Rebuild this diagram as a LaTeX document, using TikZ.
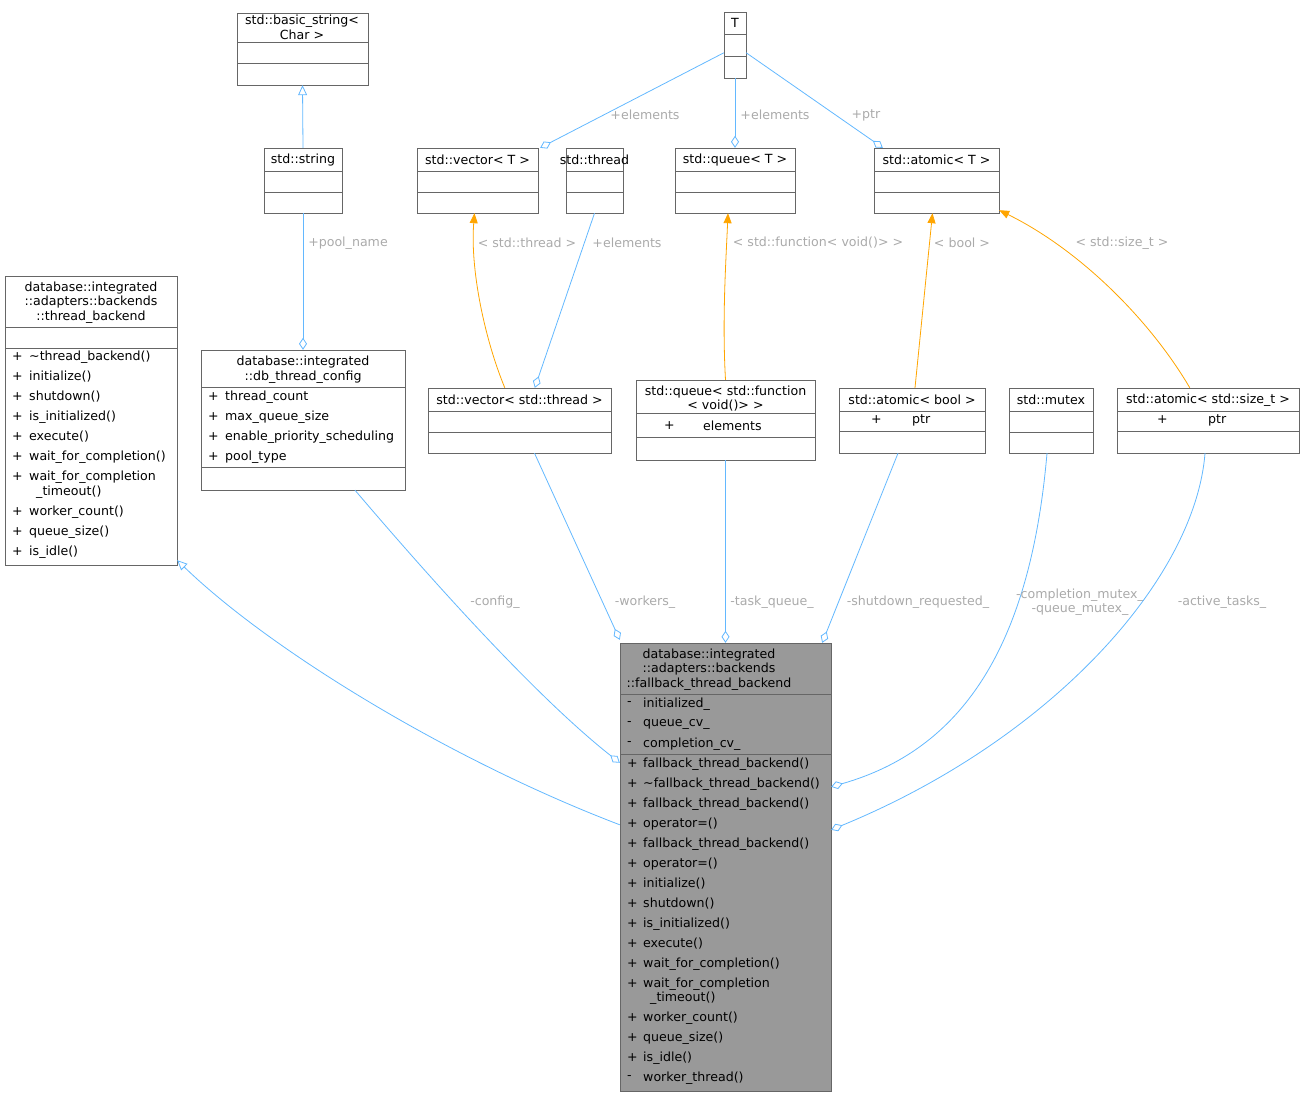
\documentclass[tikz,border=0pt]{standalone}
\usepackage{fontspec}
\setmainfont{DejaVu Sans}
\usetikzlibrary{arrows.meta,calc}
\definecolor{eb}{HTML}{63B8FF}
\definecolor{eo}{HTML}{FFA500}
\definecolor{bd}{HTML}{666666}
\definecolor{lg}{HTML}{AAAAAA}
\newcounter{mcnt}
\newcommand{\ubox}[6]{%
  \pgfmathsetmacro{\bw}{#4-#2}\pgfmathsetmacro{\bh}{#5-#3}%
  \pgfmathsetmacro{\bx}{(#2+#4)/2}\pgfmathsetmacro{\by}{(#3+#5)/2}%
  \node[draw=bd,fill=#6,inner sep=0,minimum width=\bw pt,minimum height=\bh pt] (#1) at (\bx,\by) {};}
\newcommand{\sep}[3]{\draw[bd] (#1,#3)--(#2,#3);}
\newcommand{\ctr}[3]{\stepcounter{mcnt}\node[txt] (t\themcnt) at (#1,#2) {#3};}
\newcommand{\mem}[5]{\stepcounter{mcnt}\node[txt,anchor=west] (s\themcnt) at (#1,#3) {#4};\node[txt,anchor=west] (n\themcnt) at (#2,#3) {#5};}
\begin{document}
\begin{tikzpicture}[x=1pt,y=-1pt,
  txt/.style={font=\fontsize{12.6}{14}\selectfont,inner sep=0},
  lbl/.style={font=\fontsize{12.6}{14}\selectfont,text=lg,inner sep=1pt},
  e/.style={draw=eb,line width=0.8pt},
  eor/.style={draw=eo,line width=0.8pt,-{Triangle[length=10pt,width=8pt]}},
  inh/.style={e,-{Triangle[open,length=10pt,width=9pt,fill=white]}},
  agg/.style={e,-{Diamond[open,length=12pt,width=8pt,fill=white]}}]
\useasboundingbox (0,0) rectangle (1305,1097);
% boxes
\ubox{tb}{5}{276}{177}{565}{white}\sep{5}{177}{327}\sep{5}{177}{348}
\ctr{91}{288}{database::integrated}\ctr{91}{302}{::adapters::backends}\ctr{91}{317}{::thread\_backend}
\mem{12}{29}{357}{+}{\textasciitilde thread\_backend()}
\mem{12}{29}{377}{+}{initialize()}
\mem{12}{29}{397}{+}{shutdown()}
\mem{12}{29}{417}{+}{is\_initialized()}
\mem{12}{29}{437}{+}{execute()}
\mem{12}{29}{457}{+}{wait\_for\_completion()}
\mem{12}{29}{477}{+}{wait\_for\_completion}
\node[txt,anchor=west] (tbx) at (36,492) {\_timeout()};
\mem{12}{29}{512}{+}{worker\_count()}
\mem{12}{29}{532}{+}{queue\_size()}
\mem{12}{29}{552}{+}{is\_idle()}

\ubox{bs}{237}{13}{368}{85}{white}\sep{237}{368}{42}\sep{237}{368}{63}
\ctr{302}{21}{std::basic\_string<}\ctr{302}{35}{Char >}
\ubox{str}{264}{148}{342}{213}{white}\sep{264}{342}{171}\sep{264}{342}{192}
\ctr{303}{160}{std::string}

\ubox{cfg}{201}{350}{405}{490}{white}\sep{201}{405}{387}\sep{201}{405}{467}
\ctr{303}{362}{database::integrated}\ctr{303}{377}{::db\_thread\_config}
\mem{208}{225}{397}{+}{thread\_count}
\mem{208}{225}{417}{+}{max\_queue\_size}
\mem{208}{225}{437}{+}{enable\_priority\_scheduling}
\mem{208}{225}{457}{+}{pool\_type}

\ubox{T}{724}{12}{746}{78}{white}\sep{724}{746}{34}\sep{724}{746}{56}
\ctr{735}{23}{T}
\ubox{vT}{417}{148}{538}{213}{white}\sep{417}{538}{171}\sep{417}{538}{192}
\ctr{477.5}{160}{std::vector< T >}
\ubox{th}{566}{148}{623}{213}{white}\sep{566}{623}{171}\sep{566}{623}{192}
\ctr{594.5}{160}{std::thread}
\ubox{qT}{675}{148}{795}{213}{white}\sep{675}{795}{171}\sep{675}{795}{192}
\ctr{735}{160}{std::queue< T >}
\ubox{aT}{874}{148}{999}{213}{white}\sep{874}{999}{171}\sep{874}{999}{192}
\ctr{936.5}{160}{std::atomic< T >}

\ubox{vwt}{428}{388}{611}{453}{white}\sep{428}{611}{411}\sep{428}{611}{432}
\ctr{519.5}{400}{std::vector< std::thread >}
\ubox{qf}{636}{380}{815}{460}{white}\sep{636}{815}{413}\sep{636}{815}{437}
\ctr{725.5}{392}{std::queue< std::function}\ctr{725.5}{406}{< void()> >}
\mem{664}{703}{426}{+}{elements}
\ubox{ab}{839}{388}{985}{453}{white}\sep{839}{985}{411}\sep{839}{985}{431}
\ctr{912}{400}{std::atomic< bool >}
\mem{871}{912}{420}{+}{ptr}
\ubox{mx}{1009}{388}{1093}{453}{white}\sep{1009}{1093}{411}\sep{1009}{1093}{432}
\ctr{1051}{400}{std::mutex}
\ubox{as}{1117}{388}{1299}{453}{white}\sep{1117}{1299}{411}\sep{1117}{1299}{431}
\ctr{1208}{400}{std::atomic< std::size\_t >}
\mem{1157}{1208}{420}{+}{ptr}

\ubox{fb}{620}{643}{831}{1091}{black!40}\sep{620}{831}{694}\sep{620}{831}{754}
\ctr{709}{655}{database::integrated}\ctr{709}{669}{::adapters::backends}\ctr{709}{684}{::fallback\_thread\_backend}
\mem{627}{643}{704}{-}{initialized\_}
\mem{627}{643}{724}{-}{queue\_cv\_}
\mem{627}{643}{744}{-}{completion\_cv\_}
\mem{627}{643}{764}{+}{fallback\_thread\_backend()}
\mem{627}{643}{784}{+}{\textasciitilde fallback\_thread\_backend()}
\mem{627}{643}{804}{+}{fallback\_thread\_backend()}
\mem{627}{643}{824}{+}{operator=()}
\mem{627}{643}{844}{+}{fallback\_thread\_backend()}
\mem{627}{643}{864}{+}{operator=()}
\mem{627}{643}{884}{+}{initialize()}
\mem{627}{643}{904}{+}{shutdown()}
\mem{627}{643}{924}{+}{is\_initialized()}
\mem{627}{643}{944}{+}{execute()}
\mem{627}{643}{964}{+}{wait\_for\_completion()}
\mem{627}{643}{984}{+}{wait\_for\_completion}
\node[txt,anchor=west] (fbx) at (650,998) {\_timeout()};
\mem{627}{643}{1018}{+}{worker\_count()}
\mem{627}{643}{1038}{+}{queue\_size()}
\mem{627}{643}{1058}{+}{is\_idle()}
\mem{627}{643}{1078}{-}{worker\_thread()}

% edges
\draw[inh] ($(fb.north west)+(0,182)$) .. controls (450,760) and (270,650) .. ($(tb.south east)+(0,-5)$);
\draw[agg] ($(cfg.south)+(52,0)$) .. controls (440,590) and (540,700) .. ($(fb.north west)+(0,120)$);
\node[lbl] (l1) at (495,602) {-config\_};
\draw[agg] ($(vwt.south)+(15,0)$) -- ($(fb.north west)+(0,-3)$);
\node[lbl] (l2) at (645,602) {-workers\_};
\draw[agg] (qf.south) -- (fb.north);
\node[lbl] (l3) at (772,602) {-task\_queue\_};
\draw[agg] ($(ab.south)+(-14,0)$) -- ($(fb.north east)+(-9,0)$);
\node[lbl] (l4) at (918,602) {-shutdown\_requested\_};
\draw[agg] ($(mx.south)+(-4,0)$) .. controls (1030,650) and (960,750) .. ($(fb.north east)+(0,144)$);
\node[lbl,align=center,font=\fontsize{12.6}{14}\selectfont] (l5) at (1080,602) {-completion\_mutex\_\\-queue\_mutex\_};
\draw[agg] ($(as.south)+(-3,0)$) .. controls (1195,580) and (1050,740) .. ($(fb.north east)+(0,187)$);
\node[lbl] (l6) at (1222,602) {-active\_tasks\_};
\draw[agg] (str.south) -- (cfg.north);
\node[lbl] (l7) at (348,243) {+pool\_name};
\draw[inh] (str.north) -- (bs.south);
\draw[agg] ($(T.north west)+(0,41)$) -- ($(vT.north east)+(2,0)$);
\node[lbl] (l8) at (645,115) {+elements};
\draw[agg] (T.south) -- (qT.north);
\node[lbl] (l9) at (775,115) {+elements};
\draw[agg] ($(T.north east)+(0,41)$) -- ($(aT.north west)+(9,0)$);
\node[lbl] (l10) at (866,115) {+ptr};
\draw[eor] ($(vwt.north west)+(77,0)$) .. controls (485,340) and (470,270) .. ($(vT.south)+(-3,0)$);
\node[lbl] (l11) at (527,243) {< std::thread >};
\draw[agg] (th.south) -- ($(vwt.north west)+(107,0)$);
\node[lbl] (l12) at (627,243) {+elements};
\draw[eor] (qf.north) .. controls (722,320) and (726,260) .. ($(qT.south)+(-7,0)$);
\node[lbl] (l13) at (818,243) {< std::function< void()> >};
\draw[eor] ($(ab.north)+(3,0)$) -- ($(aT.south)+(-4,0)$);
\node[lbl] (l14) at (962,243) {< bool >};
\draw[eor] ($(as.north west)+(73,0)$) .. controls (1150,320) and (1080,250) .. ($(aT.south east)+(0,-3)$);
\node[lbl] (l15) at (1122,243) {< std::size\_t >};
\end{tikzpicture}
\end{document}
